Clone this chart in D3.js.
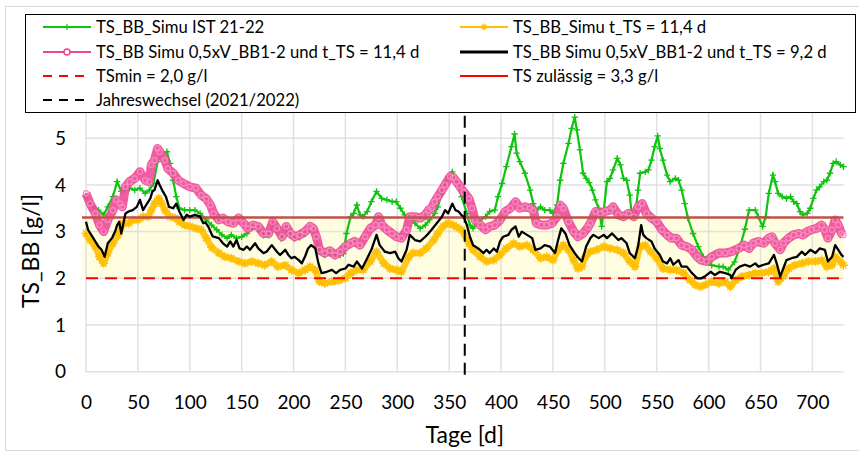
<!DOCTYPE html>
<html><head><meta charset="utf-8">
<script src="https://cdn.jsdelivr.net/npm/d3@7/dist/d3.min.js"></script>
<style>
html,body{margin:0;padding:0;background:#fff;}
svg{display:block;font-family:Lato,"Open Sans",sans-serif;}
</style></head>
<body>
<svg id="chart" width="859" height="452"></svg>
<script>
// ---------- DATA ----------
const xTicks = [0,50,100,150,200,250,300,350,400,450,500,550,600,650,700];
const yTicks = [0,1,2,3,4,5];

const greenDays = [0,3,7,12,17,21,26,30,34,38,42,47,52,57,61,65,69,73,78,81,84,87,90,95,100,105,110,116,121,126,131,136,140,145,150,155,160,166,171,176,180,184,188,193,197,201,206,211,216,219,222,225,230,235,240,245,248,251,255,258,261,264,267,271,275,280,285,290,295,299,303,307,312,317,322,327,331,336,339,343,346,349,353,356,359,362,367,370,373,378,385,389,394,397,401,405,410,413,415,418,423,428,431,434,438,442,447,450,454,457,460,465,468,471,473,476,479,482,485,488,491,494,497,499,502,505,508,512,515,518,521,524,526,529,532,534,539,542,545,548,551,553,556,560,563,568,571,574,577,580,585,590,595,598,603,610,614,619,625,630,635,639,645,648,652,655,658,662,664,667,671,675,679,682,685,688,691,695,698,701,704,707,711,714,717,720,723,727,730];
const greenVals = [3.75,3.62,3.53,3.46,3.36,3.53,3.75,4.07,3.86,3.89,3.93,3.89,3.93,3.82,3.89,4.03,4.5,4.68,4.71,4.46,4.1,3.75,3.5,3.46,3.46,3.46,3.39,3.25,3.14,3.04,2.93,2.86,2.93,2.86,2.89,2.96,3.08,3.06,2.92,2.92,3.15,3.02,2.85,3.05,2.92,2.85,2.88,2.95,3.05,3.02,2.85,2.58,2.5,2.53,2.47,2.5,2.53,2.96,3.32,3.39,3.57,3.36,3.32,3.43,3.64,3.86,3.71,3.68,3.64,3.64,3.5,3.36,3.32,3.18,3.07,3.14,3.25,3.39,3.53,3.82,4.03,4.18,4.28,4.12,3.98,3.75,3.39,3.14,3.07,3.21,3.32,3.43,3.46,3.75,4.03,4.39,4.82,5.09,4.68,4.5,4.25,3.89,3.6,3.46,3.53,3.46,3.46,3.39,3.57,4.1,4.46,4.89,5.21,5.45,5.18,4.75,4.25,4.14,4.05,3.89,3.68,3.5,3.11,3.46,4.07,4.14,4.32,4.57,4.43,4.14,4.1,3.78,3.36,3.3,3.89,4.25,4.28,4.32,4.53,4.82,5.05,4.78,4.53,4.21,4.07,4.14,4.1,3.89,3.6,3.29,2.96,2.68,2.46,2.36,2.28,2.25,2.25,2.18,2.35,2.65,3.05,3.46,3.46,3.32,3.11,3.32,3.82,4.21,4.07,3.82,3.75,3.71,3.75,3.64,3.6,3.43,3.36,3.39,3.5,3.71,3.89,3.96,4.07,4.1,4.25,4.46,4.5,4.43,4.39];

const pinkDays = [0,4,9,13,17,21,26,29,33,35,38,42,47,52,57,61,63,66,69,71,76,79,84,89,94,100,106,111,116,120,123,128,132,137,142,147,152,156,161,166,171,176,180,184,189,193,197,201,206,211,216,219,222,225,230,235,240,245,250,255,259,264,269,274,279,282,285,290,295,299,304,309,312,317,322,327,330,333,336,339,343,346,351,354,357,360,364,369,372,375,380,385,389,394,399,404,409,414,418,423,428,431,434,439,444,449,454,457,460,465,470,474,479,484,486,491,496,500,505,508,513,518,523,528,532,536,540,545,550,555,560,564,569,574,579,584,589,593,598,603,610,616,622,629,634,639,643,648,653,658,661,664,669,672,677,682,687,691,695,699,704,709,712,715,719,722,725,728,730];
const pinkVals = [3.82,3.6,3.39,3.14,3.0,3.25,3.46,3.68,3.6,3.53,3.96,4.07,4.14,4.28,4.1,4.07,4.43,4.53,4.78,4.71,4.53,4.35,4.25,4.1,4.03,3.96,3.93,3.78,3.7,3.57,3.39,3.25,3.29,3.21,3.18,3.29,3.18,3.07,3.14,3.11,2.96,2.96,3.21,3.07,2.89,3.11,2.96,2.89,2.93,3.0,3.11,3.07,2.89,2.61,2.54,2.59,2.5,2.57,2.68,2.75,2.79,2.71,2.89,3.07,3.14,3.32,3.14,3.04,2.96,2.89,2.86,3.04,3.32,3.32,3.29,3.36,3.46,3.5,3.64,3.75,3.89,4.0,4.18,4.16,4.07,3.98,3.85,3.71,3.5,3.25,3.14,3.04,3.11,3.14,3.25,3.43,3.5,3.64,3.5,3.53,3.5,3.46,3.18,3.14,3.14,3.18,3.32,3.57,3.5,3.21,3.0,2.89,2.96,3.1,3.18,3.43,3.39,3.43,3.46,3.53,3.36,3.32,3.39,3.32,3.53,3.6,3.39,3.29,3.21,3.04,2.93,2.86,2.86,2.71,2.68,2.61,2.46,2.39,2.36,2.46,2.54,2.54,2.57,2.64,2.71,2.64,2.75,2.79,2.75,2.86,2.89,2.75,2.61,2.75,2.86,2.93,2.96,2.93,3.0,3.04,3.07,3.14,3.04,2.86,3.04,3.25,3.14,2.96,2.93];

const blackDays = [0,2,7,12,15,18,21,25,28,30,32,34,38,41,45,49,52,55,58,62,64,66,69,71,74,77,80,84,87,90,94,97,100,105,110,113,115,118,122,128,132,136,139,142,145,148,152,155,158,163,166,171,174,179,184,187,192,195,198,201,205,208,211,214,217,221,224,227,232,237,241,245,250,253,258,261,266,271,275,280,283,288,293,298,301,304,309,312,317,322,327,330,333,338,343,346,349,353,356,359,362,364,367,370,373,378,383,386,389,393,396,399,402,407,410,414,417,420,425,430,433,438,442,447,452,455,458,462,466,471,474,478,482,486,489,494,499,502,507,510,513,516,521,524,529,532,535,537,540,545,548,553,556,560,563,566,571,574,579,584,589,593,597,602,606,611,616,621,622,626,630,635,640,645,648,653,658,663,666,669,672,675,680,685,690,693,698,703,707,712,715,719,722,725,728,730];
const blackVals = [3.21,3.04,2.86,2.68,2.61,2.46,2.75,2.86,3.0,3.14,3.21,2.96,3.39,3.43,3.46,3.53,3.68,3.46,3.57,3.71,3.86,3.89,4.1,4.0,3.86,3.75,3.53,3.5,3.6,3.43,3.25,3.36,3.32,3.36,3.32,3.18,3.2,3.1,2.9,2.86,2.75,2.68,2.79,2.68,2.82,2.64,2.61,2.68,2.61,2.75,2.64,2.54,2.57,2.71,2.57,2.5,2.61,2.5,2.43,2.46,2.39,2.32,2.46,2.64,2.71,2.64,2.32,2.11,2.14,2.18,2.11,2.18,2.21,2.29,2.25,2.36,2.21,2.43,2.61,2.93,2.71,2.57,2.54,2.57,2.43,2.36,2.61,2.93,2.82,2.79,2.89,2.96,3.04,3.18,3.32,3.46,3.39,3.6,3.46,3.43,3.35,3.32,3.14,2.89,2.71,2.64,2.54,2.61,2.54,2.64,2.57,2.79,2.89,2.93,3.04,3.11,2.89,3.0,2.93,2.86,2.61,2.64,2.71,2.68,2.54,2.82,3.07,2.96,2.71,2.54,2.45,2.36,2.68,2.86,2.93,2.86,2.93,2.86,2.96,2.89,2.82,2.86,2.75,2.54,2.43,2.68,3.14,2.93,2.86,2.79,2.64,2.5,2.36,2.32,2.43,2.29,2.39,2.25,2.25,2.11,2.0,2.0,2.05,2.14,2.07,2.14,2.11,2.07,2.0,2.18,2.25,2.29,2.25,2.32,2.25,2.29,2.32,2.5,2.29,2.04,2.21,2.39,2.43,2.46,2.57,2.5,2.61,2.54,2.64,2.61,2.36,2.46,2.71,2.61,2.5,2.46];

const yellowDays = [0,4,9,13,17,21,26,31,36,41,45,50,55,60,63,66,70,73,76,81,86,90,95,100,106,111,116,121,128,134,140,147,153,160,166,172,179,185,192,198,205,211,216,221,225,230,237,243,250,255,261,267,274,280,287,293,299,304,311,315,322,328,335,339,344,349,354,357,362,369,373,380,386,393,399,405,412,418,425,431,438,444,450,455,460,465,470,474,478,481,486,492,499,505,512,518,524,529,534,539,544,550,556,563,569,576,582,587,592,597,603,610,616,621,626,632,639,645,651,658,663,667,672,677,683,690,696,703,709,714,719,722,727,730];
const yellowVals = [2.96,2.82,2.68,2.46,2.32,2.54,2.75,2.93,3.18,3.18,3.25,3.25,3.32,3.32,3.46,3.6,3.71,3.6,3.46,3.32,3.29,3.21,3.14,3.11,3.07,3.04,2.86,2.66,2.54,2.46,2.43,2.36,2.32,2.36,2.32,2.28,2.36,2.25,2.28,2.18,2.11,2.18,2.25,2.18,1.93,1.89,1.93,1.95,2.0,2.11,2.18,2.18,2.36,2.57,2.32,2.21,2.18,2.14,2.46,2.54,2.54,2.64,2.82,2.96,3.11,3.18,3.14,3.1,3.04,2.75,2.61,2.46,2.36,2.39,2.5,2.64,2.75,2.68,2.71,2.61,2.43,2.46,2.39,2.61,2.71,2.61,2.39,2.21,2.25,2.46,2.57,2.61,2.68,2.64,2.61,2.54,2.36,2.25,2.68,2.71,2.57,2.43,2.21,2.18,2.18,2.11,1.96,1.86,1.82,1.86,1.93,1.89,1.93,1.82,1.96,2.04,2.07,2.11,2.11,2.14,2.21,1.93,2.04,2.21,2.28,2.32,2.36,2.36,2.39,2.25,2.28,2.46,2.36,2.28];

const tsMin = 2.0, tsZul = 3.3, yearChange = 365;
const xMax = 730, yMax = 5.54;

const legendItems = [
  {label:"TS_BB_Simu IST 21-22", key:"green"},
  {label:"TS_BB_Simu t_TS = 11,4 d", key:"yellow"},
  {label:"TS_BB Simu 0,5xV_BB1-2 und t_TS = 11,4 d", key:"pink"},
  {label:"TS_BB Simu 0,5xV_BB1-2 und t_TS = 9,2 d", key:"black"},
  {label:"TSmin = 2,0 g/l", key:"tsmin"},
  {label:"TS zulässig = 3,3 g/l", key:"tszul"},
  {label:"Jahreswechsel (2021/2022)", key:"year"}
];

// ---------- STYLES ----------
const C = {green:"#0fc40f", yellow:"#ffbf00", pink:"#ee4595", pinkBand:"#ef4d9a", pinkRing:"#f78cbf", black:"#000", red:"#ff0000", redLine:"#c0504d", grid:"#d9d9d9", band:"#fffde0"};

const svg = d3.select("#chart");
const x = d3.scaleLinear().domain([0, xMax]).range([86, 843.5]);
const y = d3.scaleLinear().domain([0, yMax]).range([371.7, 113]);

// outer border
svg.append("rect").attr("x",5.5).attr("y",6.5).attr("width",870).attr("height",444)
  .attr("fill","none").attr("stroke","#d9d9d9").attr("stroke-width",1);

const plot = svg.append("g");

// band
plot.append("rect").attr("x", x(0)-4).attr("width", x(xMax)-x(0)+4)
  .attr("y", y(tsZul)).attr("height", y(tsMin)-y(tsZul)).attr("fill", C.band);

// gridlines
plot.append("g").selectAll("line").data(yTicks).join("line")
  .attr("x1", x(0)).attr("x2", x(xMax)).attr("y1", d=>y(d)).attr("y2", d=>y(d))
  .attr("stroke", C.grid).attr("stroke-width",1.5).attr("stroke-opacity",0.8);
plot.append("g").selectAll("line").data(xTicks).join("line")
  .attr("x1", d=>x(d)).attr("x2", d=>x(d)).attr("y1", y(0)).attr("y2", y(yMax))
  .attr("stroke", C.grid).attr("stroke-width",1.5).attr("stroke-opacity",0.8);

// axes
const xAxis = d3.axisBottom(x).tickValues(xTicks).tickSize(0).tickPadding(24).tickFormat(d3.format("d"));
const gx = svg.append("g").attr("transform",`translate(0,${y(0)})`).call(xAxis);
gx.select(".domain").remove();
gx.selectAll("text").attr("font-size",19).attr("fill","#000").attr("font-family","Lato, sans-serif");

const yAxis = d3.axisLeft(y).tickValues(yTicks).tickSize(0).tickPadding(20).tickFormat(d3.format("d"));
const gy = svg.append("g").attr("transform",`translate(${x(0)},0)`).call(yAxis);
gy.select(".domain").remove();
gy.selectAll("text").attr("font-size",19).attr("fill","#000").attr("font-family","Lato, sans-serif");

svg.append("text").attr("x",(x(0)+x(xMax))/2).attr("y",443).attr("text-anchor","middle")
  .attr("font-size",23).attr("fill","#000").text("Tage [d]");
svg.append("text").attr("transform",`translate(39,251) rotate(-90)`)
  .attr("text-anchor","middle").attr("font-size",23).attr("fill","#000").text("TS_BB [g/l]");

// series
const line = d3.line().x(d=>x(d[0])).y(d=>y(d[1]));
const zip = (a,b)=>a.map((d,i)=>[d,b[i]]);
const green = zip(greenDays, greenVals);
const yellow = zip(yellowDays, yellowVals);
const pink = zip(pinkDays, pinkVals);
const black = zip(blackDays, blackVals);

function plusPath(s){return `M${-s},0H${s}M0,${-s}V${s}`;}
function starPath(s){const d=s*0.7;return `M${-s},0H${s}M0,${-s}V${s}M${-d},${-d}L${d},${d}M${-d},${d}L${d},${-d}`;}

// green
plot.append("path").datum(green).attr("d",line).attr("fill","none").attr("stroke",C.green).attr("stroke-width",2.2);
plot.append("g").selectAll("path").data(green).join("path")
  .attr("transform",d=>`translate(${x(d[0])},${y(d[1])})`).attr("d",plusPath(3.2))
  .attr("stroke",C.green).attr("stroke-width",1.3);

// yellow
plot.append("path").datum(yellow).attr("d",line).attr("fill","none").attr("stroke",C.yellow).attr("stroke-width",6.5).attr("stroke-linejoin","round").attr("stroke-opacity",0.85);
plot.append("g").selectAll("path").data(yellow).join("path")
  .attr("transform",d=>`translate(${x(d[0])},${y(d[1])})`).attr("d",starPath(4.5))
  .attr("stroke",C.yellow).attr("stroke-width",1.3);

// pink
plot.append("path").datum(pink).attr("d",line).attr("fill","none").attr("stroke",C.pinkBand).attr("stroke-width",9).attr("stroke-linejoin","round").attr("stroke-opacity",0.92);
plot.append("g").selectAll("circle").data(pink).join("circle")
  .attr("cx",d=>x(d[0])).attr("cy",d=>y(d[1])).attr("r",2.6)
  .attr("fill","none").attr("stroke",C.pinkRing).attr("stroke-width",1.2);

// reference lines
plot.append("line").attr("x1",x(0)-4).attr("x2",x(xMax)).attr("y1",y(tsZul)).attr("y2",y(tsZul))
  .attr("stroke",C.redLine).attr("stroke-width",2.5);
plot.append("line").attr("x1",x(0)).attr("x2",x(xMax)).attr("y1",y(tsMin)).attr("y2",y(tsMin))
  .attr("stroke",C.red).attr("stroke-width",2).attr("stroke-dasharray","12,7");

// black
plot.append("path").datum(black).attr("d",line).attr("fill","none").attr("stroke",C.black).attr("stroke-width",2.3).attr("stroke-linejoin","round");

// year change
plot.append("line").attr("x1",x(yearChange)).attr("x2",x(yearChange)).attr("y1",y(0)+3).attr("y2",y(yMax))
  .attr("stroke","#000").attr("stroke-width",2).attr("stroke-dasharray","12,7");

// legend
const lg = svg.append("g");
lg.append("rect").attr("x",25.5).attr("y",14.5).attr("width",830).attr("height",98)
  .attr("fill","#fff").attr("stroke","#000").attr("stroke-width",1);
const rowY = [27,52,76,100];
const colX = [43,460];
legendItems.forEach((it,i)=>{
  const cx = colX[i%2], cy = rowY[Math.floor(i/2)];
  const g = lg.append("g").attr("transform",`translate(${cx},${cy})`);
  const L = 48;
  if(it.key==="green"){
    g.append("line").attr("x2",L).attr("stroke",C.green).attr("stroke-width",2);
    g.append("path").attr("transform",`translate(${L/2},0)`).attr("d",plusPath(3)).attr("stroke",C.green).attr("stroke-width",1.2);
  } else if(it.key==="yellow"){
    g.append("line").attr("x2",L).attr("stroke",C.yellow).attr("stroke-width",2);
    g.append("path").attr("transform",`translate(${L/2},0)`).attr("d",starPath(3.5)).attr("stroke",C.yellow).attr("stroke-width",1.2);
  } else if(it.key==="pink"){
    g.append("line").attr("x2",L).attr("stroke",C.pink).attr("stroke-width",2);
    g.append("circle").attr("cx",L/2).attr("r",3).attr("fill","#fff").attr("stroke",C.pink).attr("stroke-width",1.5);
  } else if(it.key==="black"){
    g.append("line").attr("x2",L).attr("stroke","#000").attr("stroke-width",3);
  } else if(it.key==="tsmin"){
    g.append("line").attr("x2",L).attr("stroke",C.red).attr("stroke-width",2).attr("stroke-dasharray","9,7");
  } else if(it.key==="tszul"){
    g.append("line").attr("x2",L).attr("stroke",C.red).attr("stroke-width",2);
  } else {
    g.append("line").attr("x2",L).attr("stroke","#000").attr("stroke-width",2).attr("stroke-dasharray","9,7");
  }
  g.append("text").attr("x",L+5).attr("y",0).attr("dy","0.35em").attr("font-size",16.7).attr("fill","#000").text(it.label);
});
</script>
</body></html>
